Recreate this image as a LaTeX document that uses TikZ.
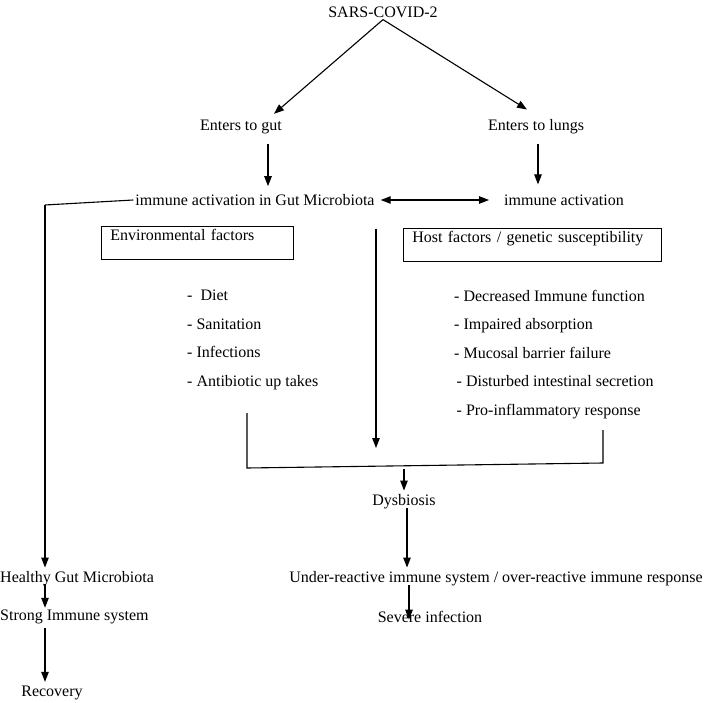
\documentclass[tikz,border=0pt]{standalone}
\usepackage{fontspec}
\setmainfont{Liberation Serif}
\usetikzlibrary{arrows.meta,calc,positioning}

\begin{document}
\begin{tikzpicture}[x=1pt,y=-1pt,
  txt/.style={font=\fontsize{16}{18}\selectfont, inner sep=2pt},
  listtxt/.style={font=\fontsize{16}{28.5}\selectfont, align=left, anchor=north west, inner sep=0pt},
  factorbox/.style={draw, line width=0.7pt, anchor=north west, align=left,
    font=\fontsize{16}{18}\selectfont, inner xsep=9pt, inner ysep=3pt,
    text height=11pt, text depth=16pt},
  arr/.style={-{Triangle[length=10pt,width=7.5pt]}, line width=1.1pt},
  dblarr/.style={{Triangle[length=10pt,width=7.5pt]}-{Triangle[length=10pt,width=7.5pt]}, line width=1.1pt},
  lnk/.style={line width=1.1pt}]
  \useasboundingbox (0,0) rectangle (709,703);

  % Entry routes of the virus
  \node[txt] (sars) at (383,12) {SARS-COVID-2};
  \node[txt] (gut) at (241,127) {Enters to gut};
  \node[txt] (lungs) at (536,127) {Enters to lungs};
  \draw[arr] (sars.south) -- ([xshift=33pt,yshift=4pt]gut.north);
  \draw[arr] (sars.south) -- ([xshift=-9pt,yshift=8pt]lungs.north);

  % Immune activation
  \node[txt] (gutact) at (255,200) {immune activation in Gut Microbiota};
  \node[txt] (lungact) at (564,200) {immune activation};
  \draw[arr] ([xshift=27pt,yshift=-8pt]gut.south) -- ([xshift=27pt,yshift=6pt]gut.south |- gutact.north);
  \draw[arr] ([xshift=2pt,yshift=-8pt]lungs.south) -- ([xshift=2pt,yshift=8pt]lungs.south |- lungact.north);
  \draw[dblarr] ([xshift=4pt]gutact.east) -- ([xshift=-13pt]lungact.west);

  % Factor boxes
  \node[factorbox, text width=174pt] (envbox) at (101,226) {Environmental factors};
  \node[factorbox, text width=240pt] (hostbox) at (403,228) {Host factors / genetic susceptibility};

  % Factor lists
  \node[listtxt] (envlist) at (187,290) {-\ \ Diet\\- Sanitation\\- Infections\\- Antibiotic up takes};
  \node[listtxt] (hostlist) at (454,290) {- Decreased Immune function\\- Impaired absorption\\- Mucosal barrier failure\\\hspace*{2.5pt}- Disturbed intestinal secretion\\\hspace*{2.5pt}- Pro-inflammatory response};

  % Bracket joining the factors
  \coordinate (envend) at (247,413);
  \coordinate (hostend) at (603,430);
  \coordinate (joinL) at (247,468);
  \coordinate (joinR) at (603,463);
  \coordinate (joinM) at (404,469);
  \coordinate (midtop) at (376,229);
  \coordinate (midend) at (376,448);
  \draw[lnk] (envend) -- (joinL) -- (joinR) -- (hostend);
  \draw[arr] (midtop) -- (midend);

  % Dysbiosis and outcome
  \node[txt] (dys) at (404,502) {Dysbiosis};
  \node[txt] (under) at (496,579) {Under-reactive immune system / over-reactive immune response};
  \node[txt] (severe) at (430,617) {Severe infection};
  \draw[arr] (joinM) -- ([yshift=2pt]dys.north -| joinM);
  \draw[arr] ([xshift=3pt,yshift=3pt]dys.south) -- ([xshift=3pt,yshift=2pt]dys.south |- under.north);
  \draw[arr] ([xshift=5pt,yshift=3pt]under.south -| dys.south) -- ([xshift=5pt,yshift=-10.5pt]severe.north -| dys.south);

  % Healthy route
  \coordinate (lcorner) at (45,205);
  \node[txt, anchor=west, inner xsep=0pt] (healthy) at (0,579) {Healthy Gut Microbiota};
  \node[txt, anchor=west, inner xsep=0pt] (strong) at (0,617) {Strong Immune system};
  \node[txt] (recovery) at (52,693) {Recovery};
  \draw[lnk] (gutact.west) -- (lcorner);
  \draw[arr] (lcorner) -- ([yshift=2pt]lcorner |- healthy.north);
  \draw[arr] ([yshift=4pt]lcorner |- healthy.south) -- ([yshift=0pt]lcorner |- strong.north);
  \draw[arr] ([yshift=-2pt]lcorner |- strong.south) -- ([yshift=2pt]lcorner |- recovery.north);
\end{tikzpicture}
\end{document}
